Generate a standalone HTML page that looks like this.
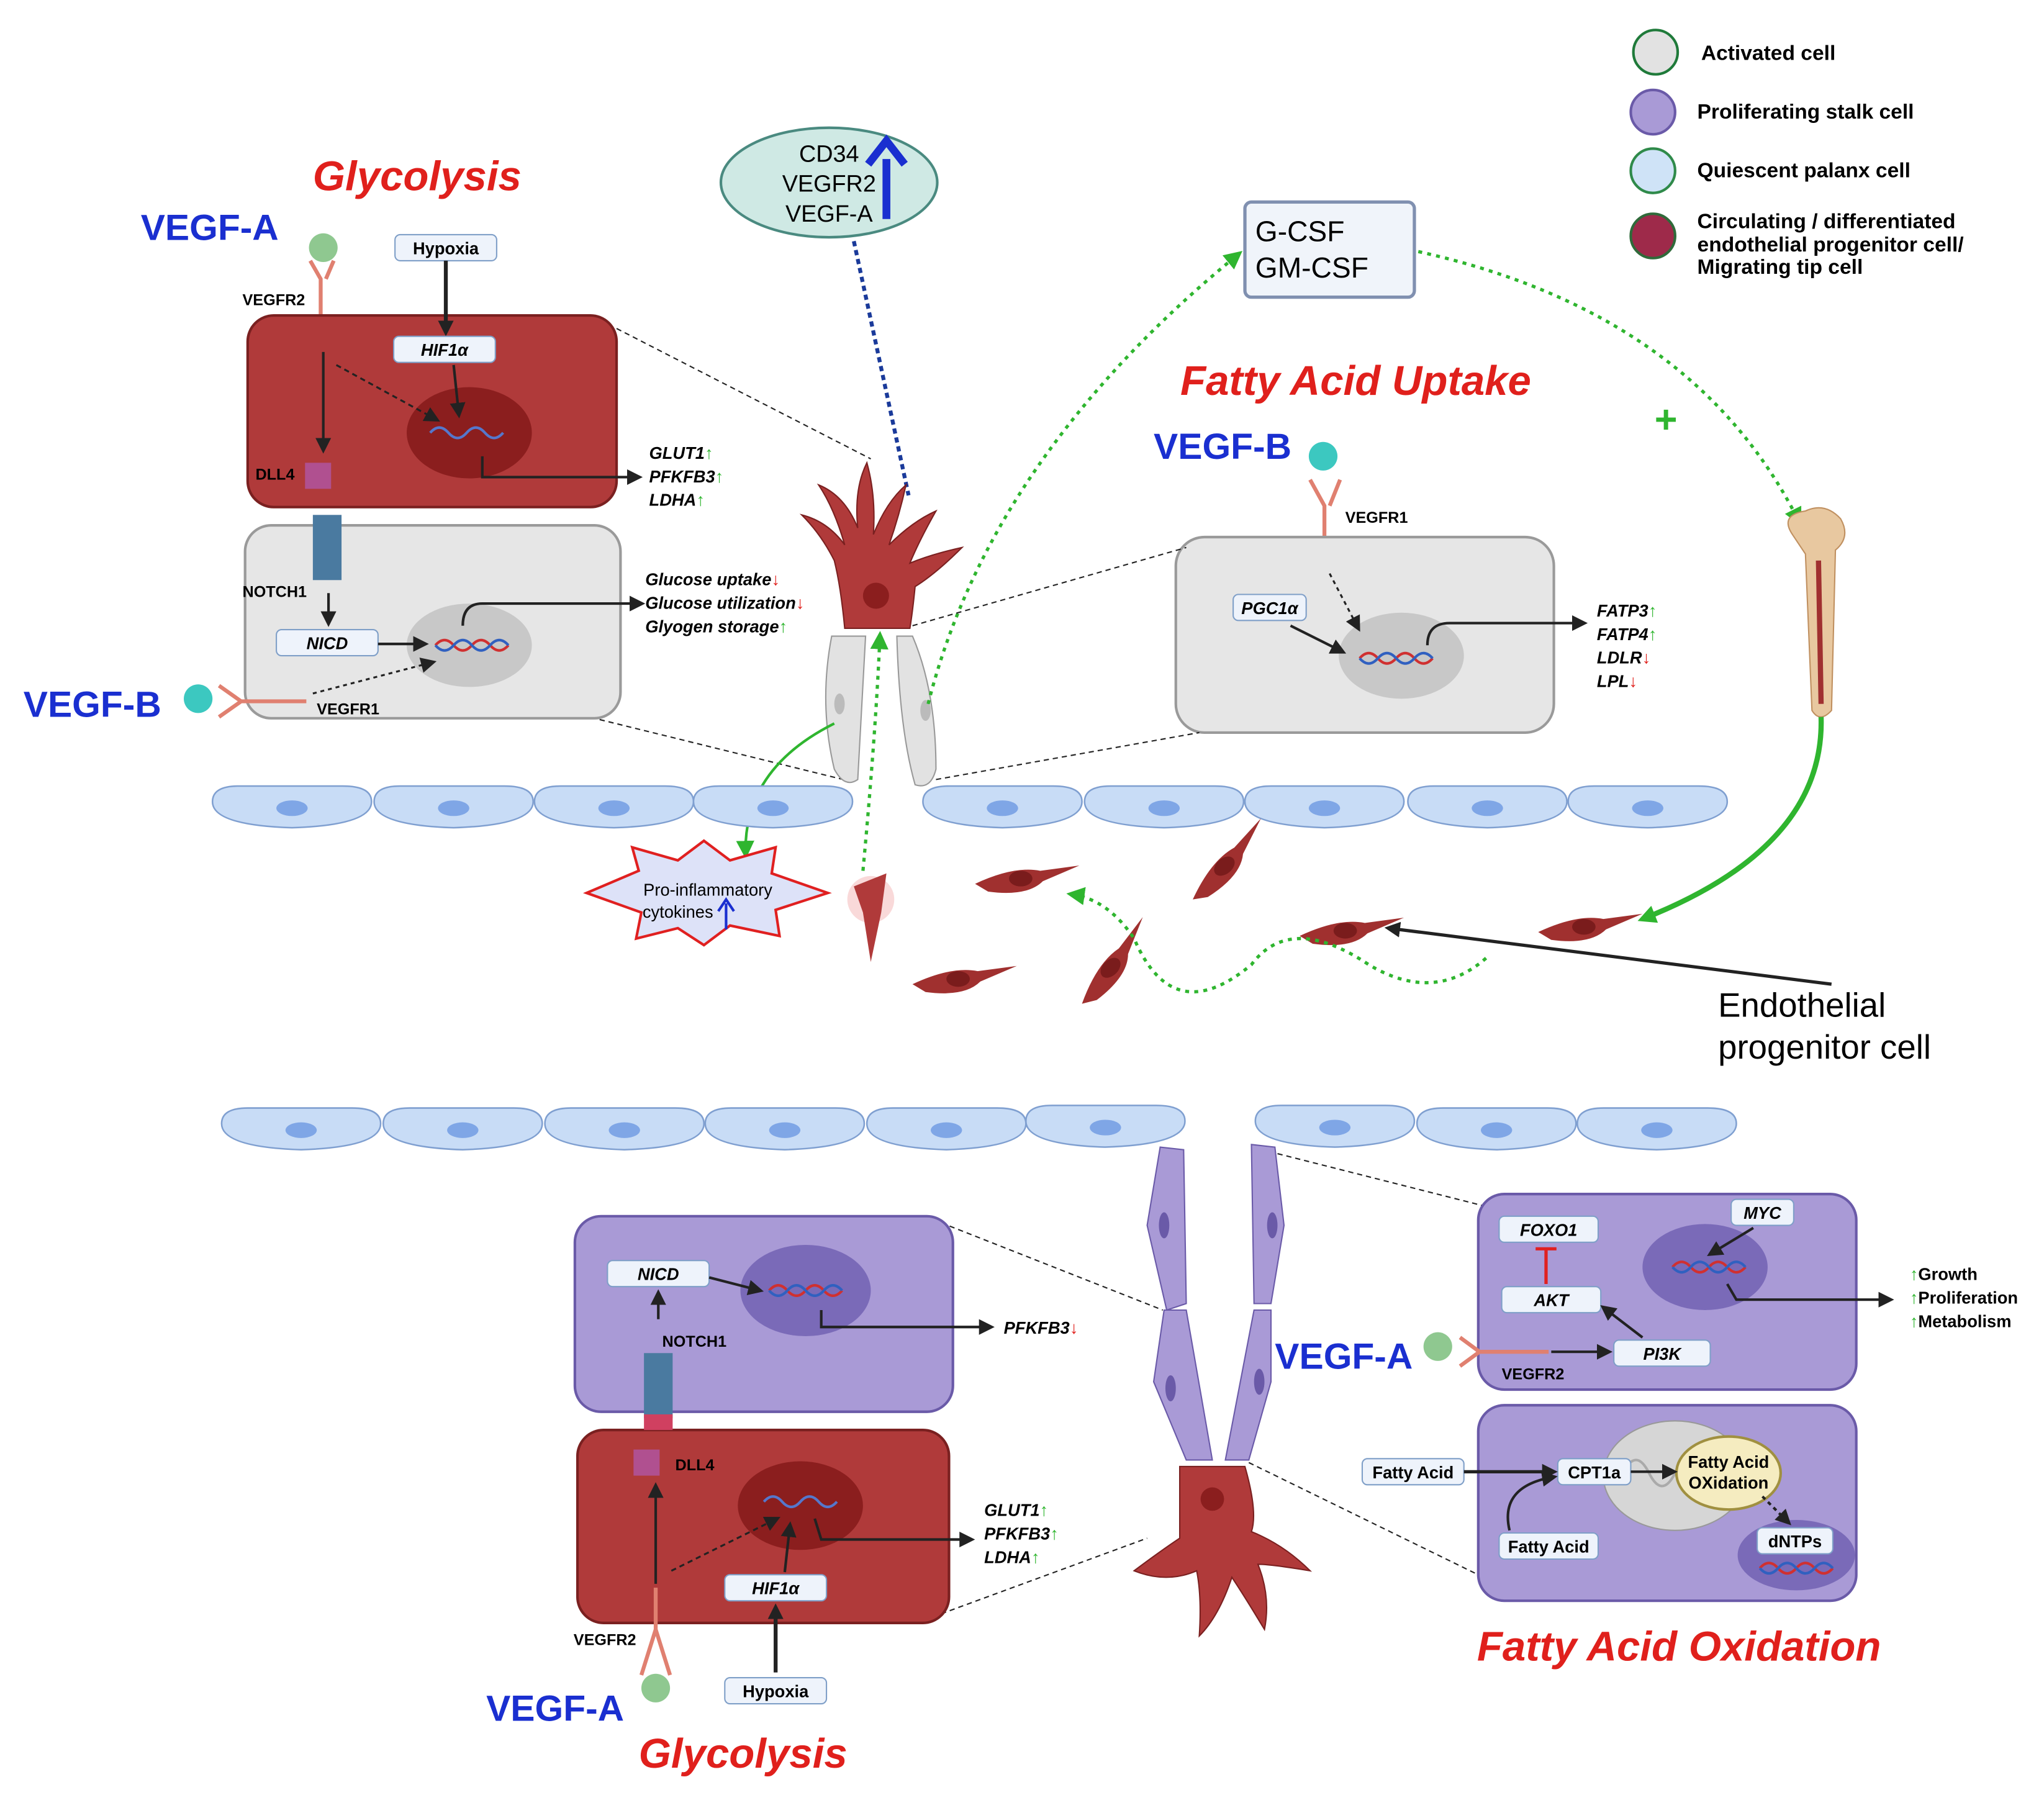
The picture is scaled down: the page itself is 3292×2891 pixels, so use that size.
<!DOCTYPE html>
<html><head><meta charset="utf-8"><style>
html,body{margin:0;padding:0;background:#fff}
svg{display:block}
text{font-family:"Liberation Sans",sans-serif}
.b{font-weight:bold}
.bi{font-weight:bold;font-style:italic}
</style></head><body>
<svg width="3292" height="2891" viewBox="0 0 1568 1377" xmlns="http://www.w3.org/2000/svg">
<defs>
<marker id="ak" markerUnits="userSpaceOnUse" markerWidth="12" markerHeight="12" refX="9" refY="6" orient="auto"><path d="M0,0 L12,6 L0,12z" fill="#222"/></marker>
<marker id="ag" markerUnits="userSpaceOnUse" markerWidth="14" markerHeight="14" refX="10" refY="7" orient="auto"><path d="M0,0 L14,7 L0,14z" fill="#2fb52f"/></marker>
<g id="endo"><path d="M0,12 Q0,0 20,0 L100,0 Q122,0 122,12 Q122,30 61,32 Q0,30 0,12z" fill="#c8dcf6" stroke="#7f9fd0" stroke-width="1.2"/><ellipse cx="61" cy="17" rx="12" ry="6" fill="#7fa6e6"/></g>
<g id="mig"><path d="M0,0 Q30,-14 50,-10 L80,-14 L52,-2 Q40,10 10,6z" fill="#a0302f"/><ellipse cx="35" cy="-4" rx="9" ry="6" fill="#7a1c1c"/></g>
</defs>

<!-- Legend -->
<circle cx="1270" cy="40" r="17" fill="#e2e2e2" stroke="#1f7a3a" stroke-width="2"/>
<text x="1305" y="46" class="b" font-size="16">Activated cell</text>
<circle cx="1268" cy="86" r="17" fill="#a99ad6" stroke="#6a5aa8" stroke-width="2"/>
<text x="1302" y="91" class="b" font-size="16">Proliferating stalk cell</text>
<circle cx="1268" cy="131" r="17" fill="#cfe3f7" stroke="#2f8a4a" stroke-width="2"/>
<text x="1302" y="136" class="b" font-size="16">Quiescent palanx cell</text>
<circle cx="1268" cy="181" r="17" fill="#9e2a4a" stroke="#2f6a3a" stroke-width="2"/>
<text x="1302" y="175" class="b" font-size="16">Circulating / differentiated</text>
<text x="1302" y="193" class="b" font-size="16">endothelial progenitor cell/</text>
<text x="1302" y="210" class="b" font-size="16">Migrating tip cell</text>

<!-- Top-left -->
<text x="320" y="146" class="bi" font-size="32" fill="#e0201c" text-anchor="middle">Glycolysis</text>
<text x="108" y="184" class="b" font-size="28" fill="#1a2fd0">VEGF-A</text>
<circle cx="248" cy="190" r="11" fill="#8fc890"/>
<text x="186" y="234" class="b" font-size="12">VEGFR2</text>
<path d="M238,200 L246,214 L246,270 M256,200 L250,214" stroke="#e08070" stroke-width="3" fill="none"/>
<rect x="190" y="242" width="283" height="147" rx="20" fill="#b03a3a" stroke="#7a2020" stroke-width="2"/>
<ellipse cx="360" cy="332" rx="48" ry="35" fill="#8b1e1e"/>
<path d="M330,332 q7,-8 14,0 t14,0 t14,0 t14,0" stroke="#5577cc" stroke-width="2" fill="none"/>
<rect x="303" y="180" width="78" height="20" rx="4" fill="#eef3fb" stroke="#7f9fc8"/>
<text x="342" y="195" class="b" font-size="13" text-anchor="middle">Hypoxia</text>
<line x1="342" y1="200" x2="342" y2="255" stroke="#222" stroke-width="3" marker-end="url(#ak)"/>
<rect x="302" y="258" width="78" height="20" rx="4" fill="#eef3fb" stroke="#7f9fc8"/>
<text x="341" y="273" class="bi" font-size="13" text-anchor="middle">HIF1α</text>
<line x1="348" y1="280" x2="352" y2="318" stroke="#222" stroke-width="2" marker-end="url(#ak)"/>
<line x1="258" y1="280" x2="335" y2="322" stroke="#222" stroke-width="1.5" stroke-dasharray="4,3" marker-end="url(#ak)"/>
<line x1="248" y1="270" x2="248" y2="345" stroke="#222" stroke-width="2" marker-end="url(#ak)"/>
<path d="M370,350 L370,366 L490,366" stroke="#222" stroke-width="2" fill="none" marker-end="url(#ak)"/>
<text x="498" y="352" class="bi" font-size="13">GLUT1<tspan fill="#2fb52f">↑</tspan></text>
<text x="498" y="370" class="bi" font-size="13">PFKFB3<tspan fill="#2fb52f">↑</tspan></text>
<text x="498" y="388" class="bi" font-size="13">LDHA<tspan fill="#2fb52f">↑</tspan></text>
<text x="196" y="368" class="b" font-size="12">DLL4</text>
<rect x="234" y="355" width="20" height="20" fill="#b05090"/>
<rect x="188" y="403" width="288" height="148" rx="20" fill="#e6e6e6" stroke="#9a9a9a" stroke-width="2"/>
<rect x="240" y="395" width="22" height="50" fill="#4a7aa0"/>
<ellipse cx="360" cy="495" rx="48" ry="32" fill="#c8c8c8"/>
<path d="M334,495 q7,-8 14,0 t14,0 t14,0 t14,0" stroke="#d03030" stroke-width="2" fill="none"/>
<path d="M334,495 q7,8 14,0 t14,0 t14,0 t14,0" stroke="#3060c0" stroke-width="2" fill="none"/>
<text x="186" y="458" class="b" font-size="12">NOTCH1</text>
<line x1="252" y1="455" x2="252" y2="478" stroke="#222" stroke-width="2" marker-end="url(#ak)"/>
<rect x="212" y="483" width="78" height="20" rx="4" fill="#eef3fb" stroke="#7f9fc8"/>
<text x="251" y="498" class="bi" font-size="13" text-anchor="middle">NICD</text>
<line x1="290" y1="494" x2="326" y2="494" stroke="#222" stroke-width="2" marker-end="url(#ak)"/>
<line x1="240" y1="532" x2="332" y2="508" stroke="#222" stroke-width="1.5" stroke-dasharray="3,3" marker-end="url(#ak)"/>
<path d="M355,480 Q355,463 370,463 L492,463" stroke="#222" stroke-width="2" fill="none" marker-end="url(#ak)"/>
<text x="495" y="449" class="bi" font-size="13">Glucose uptake<tspan fill="#e0201c">↓</tspan></text>
<text x="495" y="467" class="bi" font-size="13">Glucose utilization<tspan fill="#e0201c">↓</tspan></text>
<text x="495" y="485" class="bi" font-size="13">Glyogen storage<tspan fill="#2fb52f">↑</tspan></text>
<text x="18" y="550" class="b" font-size="28" fill="#1a2fd0">VEGF-B</text>
<circle cx="152" cy="536" r="11" fill="#3cc8c0"/>
<path d="M168,526 L185,538 L235,538 M168,550 L185,538" stroke="#e08070" stroke-width="3" fill="none"/>
<text x="243" y="548" class="b" font-size="12">VEGFR1</text>
<line x1="473" y1="252" x2="668" y2="352" stroke="#222" stroke-dasharray="4,3"/>
<line x1="460" y1="552" x2="655" y2="600" stroke="#222" stroke-dasharray="4,3"/>

<!-- CD34 ellipse -->
<ellipse cx="636" cy="140" rx="83" ry="42" fill="#cfe9e4" stroke="#4a8a80" stroke-width="2"/>
<text x="636" y="124" font-size="18" text-anchor="middle">CD34</text>
<text x="636" y="147" font-size="18" text-anchor="middle">VEGFR2</text>
<text x="636" y="170" font-size="18" text-anchor="middle">VEGF-A</text>
<path d="M680,168 L680,122 M666,126 L680,108 L694,126" stroke="#1a2fd0" stroke-width="6" fill="none"/>
<line x1="655" y1="185" x2="697" y2="380" stroke="#1a3a9a" stroke-width="3" stroke-dasharray="4,3"/>

<!-- tip cell top -->
<path d="M638,488 Q628,540 640,590 Q648,605 658,598 L664,488z" fill="#e2e2e2" stroke="#999"/>
<ellipse cx="644" cy="540" rx="4" ry="8" fill="#bbb"/>
<path d="M688,488 Q690,560 702,602 Q714,606 718,590 Q718,530 700,488z" fill="#e2e2e2" stroke="#999"/>
<ellipse cx="710" cy="545" rx="4" ry="8" fill="#bbb"/>
<path d="M648,482 Q645,450 640,430 Q630,410 615,395 Q635,400 648,418 Q640,390 628,372 Q648,380 658,405 Q655,375 665,355 Q672,380 670,410 Q680,385 695,372 Q690,395 682,418 Q700,400 718,392 Q705,415 698,432 Q715,425 738,420 Q718,440 702,450 Q700,470 698,482z" fill="#b03a3a" stroke="#7a2020"/>
<circle cx="672" cy="457" r="10" fill="#8b1e1e"/>
<path d="M712,540 Q760,350 950,195" stroke="#2fb52f" stroke-width="2.5" stroke-dasharray="3,4" fill="none" marker-end="url(#ag)"/>
<path d="M662,668 Q672,560 675,488" stroke="#2fb52f" stroke-width="2.5" stroke-dasharray="3,4" fill="none" marker-end="url(#ag)"/>
<path d="M640,555 Q570,590 572,655" stroke="#2fb52f" stroke-width="2" fill="none" marker-end="url(#ag)"/>

<!-- G-CSF -->
<rect x="955" y="155" width="130" height="73" rx="5" fill="#f0f4fa" stroke="#8090b0" stroke-width="2.5"/>
<text x="963" y="185" font-size="22">G-CSF</text>
<text x="963" y="213" font-size="22">GM-CSF</text>
<path d="M1088,193 Q1300,240 1380,400" stroke="#2fb52f" stroke-width="2.5" stroke-dasharray="3,4" fill="none" marker-end="url(#ag)"/>
<text x="1278" y="332" class="b" font-size="30" fill="#2fb52f" text-anchor="middle">+</text>

<!-- Fatty acid uptake -->
<text x="1040" y="303" class="bi" font-size="32" fill="#e0201c" text-anchor="middle">Fatty Acid Uptake</text>
<text x="885" y="352" class="b" font-size="28" fill="#1a2fd0">VEGF-B</text>
<circle cx="1015" cy="350" r="11" fill="#3cc8c0"/>
<path d="M1005,368 L1016,388 L1016,435 M1028,368 L1020,388" stroke="#e08070" stroke-width="3" fill="none"/>
<text x="1032" y="401" class="b" font-size="12">VEGFR1</text>
<rect x="902" y="412" width="290" height="150" rx="22" fill="#e6e6e6" stroke="#9a9a9a" stroke-width="2"/>
<ellipse cx="1075" cy="503" rx="48" ry="33" fill="#c8c8c8"/>
<path d="M1043,505 q7,-8 14,0 t14,0 t14,0 t14,0" stroke="#d03030" stroke-width="2" fill="none"/>
<path d="M1043,505 q7,8 14,0 t14,0 t14,0 t14,0" stroke="#3060c0" stroke-width="2" fill="none"/>
<rect x="946" y="456" width="56" height="20" rx="4" fill="#eef3fb" stroke="#7f9fc8"/>
<text x="974" y="471" class="bi" font-size="13" text-anchor="middle">PGC1α</text>
<line x1="990" y1="480" x2="1030" y2="500" stroke="#222" stroke-width="2" marker-end="url(#ak)"/>
<line x1="1020" y1="440" x2="1042" y2="482" stroke="#222" stroke-width="1.5" stroke-dasharray="3,3" marker-end="url(#ak)"/>
<path d="M1095,495 Q1095,478 1112,478 L1215,478" stroke="#222" stroke-width="2" fill="none" marker-end="url(#ak)"/>
<text x="1225" y="473" class="bi" font-size="13">FATP3<tspan fill="#2fb52f">↑</tspan></text>
<text x="1225" y="491" class="bi" font-size="13">FATP4<tspan fill="#2fb52f">↑</tspan></text>
<text x="1225" y="509" class="bi" font-size="13">LDLR<tspan fill="#e0201c">↓</tspan></text>
<text x="1225" y="527" class="bi" font-size="13">LPL<tspan fill="#e0201c">↓</tspan></text>
<line x1="700" y1="480" x2="910" y2="420" stroke="#222" stroke-dasharray="4,3"/>
<line x1="718" y1="598" x2="920" y2="562" stroke="#222" stroke-dasharray="4,3"/>

<!-- Bone -->
<path d="M1375,410 Q1365,395 1385,392 Q1400,385 1412,398 Q1420,412 1408,422 L1405,545 Q1396,555 1390,545 L1385,425z" fill="#e8c8a0" stroke="#c09060"/>
<line x1="1395" y1="430" x2="1397" y2="540" stroke="#a03030" stroke-width="4"/>
<path d="M1397,550 Q1400,650 1260,705" stroke="#2fb52f" stroke-width="4" fill="none" marker-end="url(#ag)"/>

<!-- top endothelial row -->
<use href="#endo" x="163" y="603"/><use href="#endo" x="287" y="603"/><use href="#endo" x="410" y="603"/>
<use href="#endo" x="532" y="603"/><use href="#endo" x="708" y="603"/><use href="#endo" x="832" y="603"/>
<use href="#endo" x="955" y="603"/><use href="#endo" x="1080" y="603"/><use href="#endo" x="1203" y="603"/>

<!-- cytokines -->
<polygon points="450,685 490,668 485,650 520,660 540,645 560,660 595,650 592,670 635,685 595,698 598,718 560,710 540,725 520,712 488,720 492,700" fill="#dde2f8" stroke="#e02020" stroke-width="2"/>
<text x="543" y="687" font-size="13" text-anchor="middle">Pro-inflammatory</text>
<text x="520" y="704" font-size="13" text-anchor="middle">cytokines</text>
<path d="M557,713 L557,693 M551,699 L557,690 L563,699" stroke="#1a2fd0" stroke-width="2" fill="none"/>

<!-- migrating cells -->
<circle cx="668" cy="690" r="18" fill="#f5c0c0" opacity="0.6"/>
<path d="M655,680 L680,670 L676,700 L668,738 L662,700z" fill="#b03a3a"/>
<use href="#mig" x="748" y="678"/>
<g transform="translate(915,690) rotate(-40)"><use href="#mig"/></g>
<use href="#mig" x="700" y="755"/>
<g transform="translate(830,770) rotate(-45)"><use href="#mig"/></g>
<use href="#mig" x="997" y="718"/>
<use href="#mig" x="1180" y="715"/>
<path d="M1140,735 Q1100,770 1050,740 Q990,700 960,740 Q900,790 870,720 Q850,690 822,686" stroke="#2fb52f" stroke-width="2.5" stroke-dasharray="3,4" fill="none" marker-end="url(#ag)"/>
<line x1="1405" y1="755" x2="1065" y2="712" stroke="#222" stroke-width="2.5" marker-end="url(#ak)"/>
<text x="1318" y="780" font-size="26">Endothelial</text>
<text x="1318" y="812" font-size="26">progenitor cell</text>

<!-- bottom endothelial row -->
<use href="#endo" x="170" y="850"/><use href="#endo" x="294" y="850"/><use href="#endo" x="418" y="850"/>
<use href="#endo" x="541" y="850"/><use href="#endo" x="665" y="850"/><use href="#endo" x="787" y="848"/>
<use href="#endo" x="963" y="848"/><use href="#endo" x="1087" y="850"/><use href="#endo" x="1210" y="850"/>

<!-- bottom stalk + tip -->
<path d="M890,880 L908,882 L910,1000 L895,1005 L880,940z" fill="#a99ad6" stroke="#6a5aa8"/>
<ellipse cx="893" cy="940" rx="4" ry="10" fill="#6a5aa8"/>
<path d="M960,878 L978,880 L985,940 L975,1000 L962,1000z" fill="#a99ad6" stroke="#6a5aa8"/>
<ellipse cx="976" cy="940" rx="4" ry="10" fill="#6a5aa8"/>
<path d="M893,1005 L910,1005 L930,1120 L910,1120 L885,1060z" fill="#a99ad6" stroke="#6a5aa8"/>
<ellipse cx="898" cy="1065" rx="4" ry="10" fill="#6a5aa8"/>
<path d="M962,1005 L975,1005 L975,1060 L958,1120 L940,1120z" fill="#a99ad6" stroke="#6a5aa8"/>
<ellipse cx="966" cy="1060" rx="4" ry="10" fill="#6a5aa8"/>
<path d="M905,1125 L955,1125 Q965,1160 960,1175 Q985,1185 1005,1205 Q975,1200 965,1200 Q975,1225 970,1250 Q955,1225 945,1210 Q935,1240 920,1255 Q922,1225 918,1205 Q895,1215 870,1205 Q890,1190 905,1180z" fill="#b03a3a" stroke="#7a2020"/>
<circle cx="930" cy="1150" r="9" fill="#8b1e1e"/>
<line x1="722" y1="938" x2="892" y2="1005" stroke="#222" stroke-dasharray="4,3"/>
<line x1="722" y1="1238" x2="880" y2="1180" stroke="#222" stroke-dasharray="4,3"/>
<line x1="980" y1="885" x2="1138" y2="925" stroke="#222" stroke-dasharray="4,3"/>
<line x1="958" y1="1122" x2="1138" y2="1210" stroke="#222" stroke-dasharray="4,3"/>

<!-- bottom-left purple cell -->
<rect x="441" y="933" width="290" height="150" rx="20" fill="#a99ad6" stroke="#6a5aa8" stroke-width="2"/>
<ellipse cx="618" cy="990" rx="50" ry="35" fill="#7a6ab8"/>
<path d="M590,990 q7,-8 14,0 t14,0 t14,0 t14,0" stroke="#d03030" stroke-width="2" fill="none"/>
<path d="M590,990 q7,8 14,0 t14,0 t14,0 t14,0" stroke="#3060c0" stroke-width="2" fill="none"/>
<rect x="466" y="967" width="78" height="20" rx="4" fill="#eef3fb" stroke="#7f9fc8"/>
<text x="505" y="982" class="bi" font-size="13" text-anchor="middle">NICD</text>
<line x1="544" y1="980" x2="583" y2="990" stroke="#222" stroke-width="2" marker-end="url(#ak)"/>
<line x1="505" y1="1012" x2="505" y2="992" stroke="#222" stroke-width="2" marker-end="url(#ak)"/>
<text x="508" y="1033" class="b" font-size="12">NOTCH1</text>
<path d="M630,1005 L630,1018 L760,1018" stroke="#222" stroke-width="2" fill="none" marker-end="url(#ak)"/>
<text x="770" y="1023" class="bi" font-size="13">PFKFB3<tspan fill="#e0201c">↓</tspan></text>
<rect x="494" y="1038" width="22" height="50" fill="#4a7aa0"/>
<rect x="443" y="1097" width="285" height="148" rx="20" fill="#b03a3a" stroke="#7a2020" stroke-width="2"/>
<rect x="494" y="1085" width="22" height="12" fill="#d04060"/>
<rect x="486" y="1112" width="20" height="20" fill="#b05090"/>
<text x="518" y="1128" class="b" font-size="12">DLL4</text>
<ellipse cx="614" cy="1155" rx="48" ry="34" fill="#8b1e1e"/>
<path d="M586,1152 q7,-8 14,0 t14,0 t14,0 t14,0" stroke="#5577cc" stroke-width="2" fill="none"/>
<line x1="503" y1="1215" x2="503" y2="1140" stroke="#222" stroke-width="2" marker-end="url(#ak)"/>
<line x1="515" y1="1205" x2="596" y2="1165" stroke="#222" stroke-width="1.5" stroke-dasharray="4,3" marker-end="url(#ak)"/>
<rect x="556" y="1208" width="78" height="20" rx="4" fill="#eef3fb" stroke="#7f9fc8"/>
<text x="595" y="1223" class="bi" font-size="13" text-anchor="middle">HIF1α</text>
<line x1="602" y1="1206" x2="606" y2="1170" stroke="#222" stroke-width="2" marker-end="url(#ak)"/>
<path d="M625,1165 L630,1181 L745,1181" stroke="#222" stroke-width="2" fill="none" marker-end="url(#ak)"/>
<text x="755" y="1163" class="bi" font-size="13">GLUT1<tspan fill="#2fb52f">↑</tspan></text>
<text x="755" y="1181" class="bi" font-size="13">PFKFB3<tspan fill="#2fb52f">↑</tspan></text>
<text x="755" y="1199" class="bi" font-size="13">LDHA<tspan fill="#2fb52f">↑</tspan></text>
<path d="M503,1218 L503,1250 L492,1285 M503,1250 L514,1285" stroke="#e08070" stroke-width="3" fill="none"/>
<text x="440" y="1262" class="b" font-size="12">VEGFR2</text>
<circle cx="503" cy="1295" r="11" fill="#8fc890"/>
<rect x="556" y="1287" width="78" height="20" rx="4" fill="#eef3fb" stroke="#7f9fc8"/>
<text x="595" y="1302" class="b" font-size="13" text-anchor="middle">Hypoxia</text>
<line x1="595" y1="1283" x2="595" y2="1233" stroke="#222" stroke-width="3" marker-end="url(#ak)"/>
<text x="373" y="1320" class="b" font-size="28" fill="#1a2fd0">VEGF-A</text>
<text x="570" y="1356" class="bi" font-size="32" fill="#e0201c" text-anchor="middle">Glycolysis</text>

<!-- right bottom purple cells -->
<rect x="1134" y="916" width="290" height="150" rx="20" fill="#a99ad6" stroke="#6a5aa8" stroke-width="2"/>
<ellipse cx="1308" cy="972" rx="48" ry="33" fill="#7a6ab8"/>
<path d="M1283,972 q7,-8 14,0 t14,0 t14,0 t14,0" stroke="#d03030" stroke-width="2" fill="none"/>
<path d="M1283,972 q7,8 14,0 t14,0 t14,0 t14,0" stroke="#3060c0" stroke-width="2" fill="none"/>
<rect x="1150" y="933" width="76" height="20" rx="4" fill="#eef3fb" stroke="#7f9fc8"/>
<text x="1188" y="948" class="bi" font-size="13" text-anchor="middle">FOXO1</text>
<rect x="1328" y="920" width="48" height="20" rx="4" fill="#eef3fb" stroke="#7f9fc8"/>
<text x="1352" y="935" class="bi" font-size="13" text-anchor="middle">MYC</text>
<line x1="1345" y1="942" x2="1312" y2="962" stroke="#222" stroke-width="2" marker-end="url(#ak)"/>
<path d="M1186,985 L1186,958 M1178,958 L1194,958" stroke="#e02020" stroke-width="2.5" fill="none"/>
<rect x="1152" y="987" width="76" height="20" rx="4" fill="#eef3fb" stroke="#7f9fc8"/>
<text x="1190" y="1002" class="bi" font-size="13" text-anchor="middle">AKT</text>
<rect x="1238" y="1028" width="74" height="20" rx="4" fill="#eef3fb" stroke="#7f9fc8"/>
<text x="1275" y="1043" class="bi" font-size="13" text-anchor="middle">PI3K</text>
<line x1="1260" y1="1026" x2="1230" y2="1003" stroke="#222" stroke-width="2" marker-end="url(#ak)"/>
<line x1="1190" y1="1037" x2="1234" y2="1037" stroke="#222" stroke-width="2" marker-end="url(#ak)"/>
<path d="M1120,1026 L1135,1037 L1188,1037 M1120,1048 L1135,1037" stroke="#e08070" stroke-width="3" fill="none"/>
<circle cx="1103" cy="1033" r="11" fill="#8fc890"/>
<text x="978" y="1050" class="b" font-size="28" fill="#1a2fd0">VEGF-A</text>
<text x="1152" y="1058" class="b" font-size="12">VEGFR2</text>
<path d="M1325,985 L1332,997 L1450,997" stroke="#222" stroke-width="2" fill="none" marker-end="url(#ak)"/>
<text x="1465" y="982" class="b" font-size="13"><tspan fill="#2fb52f">↑</tspan>Growth</text>
<text x="1465" y="1000" class="b" font-size="13"><tspan fill="#2fb52f">↑</tspan>Proliferation</text>
<text x="1465" y="1018" class="b" font-size="13"><tspan fill="#2fb52f">↑</tspan>Metabolism</text>

<rect x="1134" y="1078" width="290" height="150" rx="20" fill="#a99ad6" stroke="#6a5aa8" stroke-width="2"/>
<ellipse cx="1285" cy="1132" rx="55" ry="42" fill="#d6d6d6" stroke="#999"/>
<path d="M1245,1130 q10,-20 20,0 t20,0 t20,0" stroke="#aaa" stroke-width="2" fill="none"/>
<ellipse cx="1326" cy="1130" rx="40" ry="28" fill="#f5ecc0" stroke="#a09040" stroke-width="2"/>
<text x="1326" y="1126" class="b" font-size="13" text-anchor="middle">Fatty Acid</text>
<text x="1326" y="1142" class="b" font-size="13" text-anchor="middle">OXidation</text>
<ellipse cx="1378" cy="1193" rx="45" ry="27" fill="#7a6ab8"/>
<path d="M1350,1203 q7,-8 14,0 t14,0 t14,0 t14,0" stroke="#d03030" stroke-width="2" fill="none"/>
<path d="M1350,1203 q7,8 14,0 t14,0 t14,0 t14,0" stroke="#3060c0" stroke-width="2" fill="none"/>
<rect x="1348" y="1172" width="58" height="20" rx="4" fill="#eef3fb" stroke="#7f9fc8"/>
<text x="1377" y="1187" class="b" font-size="13" text-anchor="middle">dNTPs</text>
<line x1="1352" y1="1148" x2="1372" y2="1168" stroke="#222" stroke-width="2" stroke-dasharray="3,3" marker-end="url(#ak)"/>
<rect x="1045" y="1119" width="78" height="20" rx="4" fill="#eef3fb" stroke="#7f9fc8"/>
<text x="1084" y="1134" class="b" font-size="13" text-anchor="middle">Fatty Acid</text>
<rect x="1195" y="1119" width="56" height="20" rx="4" fill="#eef3fb" stroke="#7f9fc8"/>
<text x="1223" y="1134" class="b" font-size="13" text-anchor="middle">CPT1a</text>
<line x1="1123" y1="1129" x2="1192" y2="1129" stroke="#222" stroke-width="2.5" marker-end="url(#ak)"/>
<line x1="1251" y1="1129" x2="1284" y2="1129" stroke="#222" stroke-width="2" marker-end="url(#ak)"/>
<rect x="1150" y="1176" width="76" height="20" rx="4" fill="#eef3fb" stroke="#7f9fc8"/>
<text x="1188" y="1191" class="b" font-size="13" text-anchor="middle">Fatty Acid</text>
<path d="M1158,1174 Q1150,1140 1192,1133" stroke="#222" stroke-width="2" fill="none" marker-end="url(#ak)"/>
<text x="1288" y="1274" class="bi" font-size="32" fill="#e0201c" text-anchor="middle">Fatty Acid Oxidation</text>
</svg>
</body></html>
